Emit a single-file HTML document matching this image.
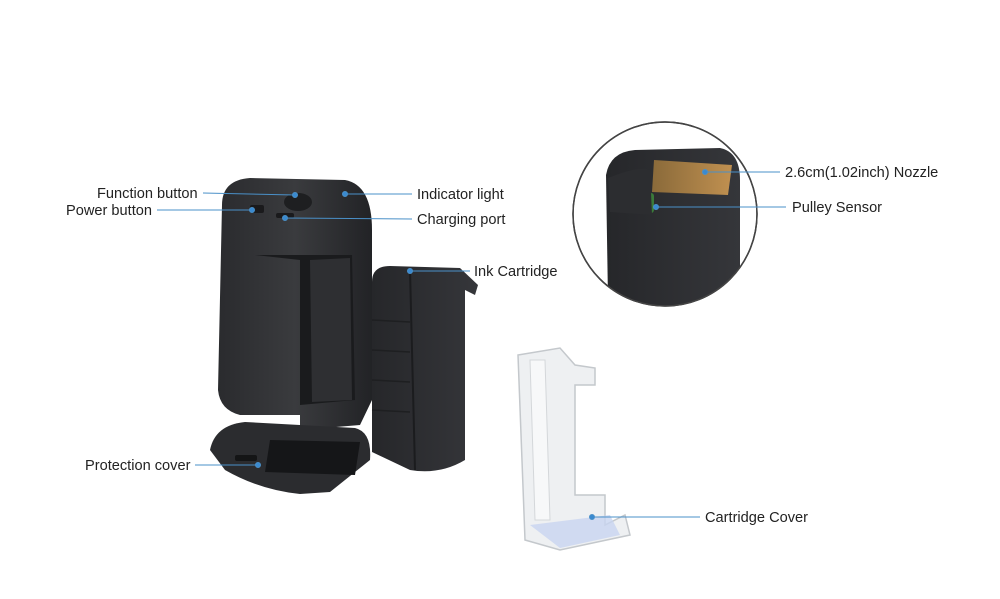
<!DOCTYPE html>
<html><head><meta charset="utf-8"><style>
html,body{margin:0;padding:0;background:#fff;}
svg{display:block;}
text{font-family:"Liberation Sans",sans-serif;font-size:14.6px;fill:#222;}
</style></head><body>
<svg width="1000" height="599" viewBox="0 0 1000 599" xmlns="http://www.w3.org/2000/svg">
<defs>
<linearGradient id="body" x1="0" x2="1"><stop offset="0" stop-color="#2a2b2e"/><stop offset="0.5" stop-color="#3a3b3e"/><stop offset="1" stop-color="#222326"/></linearGradient>
<linearGradient id="cart" x1="0" x2="1"><stop offset="0" stop-color="#26272a"/><stop offset="1" stop-color="#35363a"/></linearGradient>
<linearGradient id="nz" x1="0" x2="1"><stop offset="0" stop-color="#8a6a3a"/><stop offset="1" stop-color="#c09050"/></linearGradient>
<clipPath id="cc"><circle cx="665" cy="214" r="92"/></clipPath>
</defs>
<path d="M222 205 Q222 180 250 178 L345 180 Q372 185 372 230 L372 400 L360 425 L300 430 L300 415 L240 415 Q220 410 218 390 Z" fill="url(#body)"/>
<path d="M255 255 L352 255 L355 400 L300 405 L300 260 Z" fill="#1a1b1d"/>
<path d="M310 260 L350 258 L352 400 L312 402 Z" fill="#2e2f32"/>
<ellipse cx="298" cy="202" rx="14" ry="9" fill="#1e1f21"/>
<rect x="250" y="205" width="14" height="8" rx="2" fill="#1a1a1c"/>
<rect x="276" y="213" width="18" height="5" rx="2" fill="#1a1a1c"/>
<path d="M210 450 Q215 425 245 422 L355 428 Q372 432 370 460 L330 492 L300 494 Q260 490 225 470 Z" fill="#2b2c2f"/>
<path d="M270 440 L360 442 L355 475 L265 472 Z" fill="#151618"/>
<rect x="235" y="455" width="22" height="6" rx="2" fill="#141516"/>
<path d="M372 282 Q372 266 390 266 L460 268 L478 285 L475 295 L465 290 L465 460 Q440 475 410 470 L372 452 Z" fill="url(#cart)"/>
<path d="M410 270 L415 470" stroke="#1b1c1e" stroke-width="2"/>
<g stroke="#1e1f21" stroke-width="1.5"><line x1="372" y1="320" x2="410" y2="322"/><line x1="372" y1="350" x2="410" y2="352"/><line x1="372" y1="380" x2="410" y2="382"/><line x1="372" y1="410" x2="410" y2="412"/></g>
<circle cx="665" cy="214" r="92" fill="#fff" stroke="#444" stroke-width="1.5"/>
<g clip-path="url(#cc)">
<path d="M606 175 Q610 152 635 150 L720 148 Q740 152 740 180 L740 300 Q700 320 665 322 Q630 318 608 300 Z" fill="url(#cart)"/>
<path d="M654 160 L732 165 L728 195 L652 192 Z" fill="url(#nz)"/>
<rect x="640" y="193" width="14" height="20" rx="3" fill="#3a7a3a"/>
<path d="M608 178 Q640 165 650 170 L652 215 L610 212 Z" fill="#2c2d30"/>
</g>
<circle cx="665" cy="214" r="92" fill="none" stroke="#444" stroke-width="1.5"/>
<path d="M518 355 L560 348 L575 365 L595 368 L595 385 L575 385 L575 495 L605 495 L605 525 L625 515 L630 535 L560 550 L525 540 Z" fill="#eef0f2" stroke="#c4c8cc" stroke-width="1.5"/>
<path d="M530 360 L545 360 L550 520 L535 520 Z" fill="#f7f8f9" stroke="#d4d7da"/>
<path d="M530 525 L610 515 L620 535 L560 548 Z" fill="#c8d4f0" opacity="0.8"/>
<g stroke="#4a90c8" stroke-width="1" fill="#3a8ad0">
<line x1="203" y1="193" x2="295" y2="195"/><circle cx="295" cy="195" r="2.5"/>
<line x1="157" y1="210" x2="252" y2="210"/><circle cx="252" cy="210" r="2.5"/>
<line x1="345" y1="194" x2="412" y2="194"/><circle cx="345" cy="194" r="2.5"/>
<line x1="285" y1="218" x2="412" y2="219"/><circle cx="285" cy="218" r="2.5"/>
<line x1="410" y1="271" x2="470" y2="271"/><circle cx="410" cy="271" r="2.5"/>
<line x1="195" y1="465" x2="258" y2="465"/><circle cx="258" cy="465" r="2.5"/>
<line x1="705" y1="172" x2="780" y2="172"/><circle cx="705" cy="172" r="2.5"/>
<line x1="656" y1="207" x2="786" y2="207"/><circle cx="656" cy="207" r="2.5"/>
<line x1="592" y1="517" x2="700" y2="517"/><circle cx="592" cy="517" r="2.5"/>
</g>
<text x="97" y="198">Function button</text>
<text x="66" y="215">Power button</text>
<text x="417" y="199">Indicator light</text>
<text x="417" y="224">Charging port</text>
<text x="474" y="276">Ink Cartridge</text>
<text x="85" y="470">Protection cover</text>
<text x="785" y="177">2.6cm(1.02inch) Nozzle</text>
<text x="792" y="212">Pulley Sensor</text>
<text x="705" y="522">Cartridge Cover</text>
</svg>
</body></html>
